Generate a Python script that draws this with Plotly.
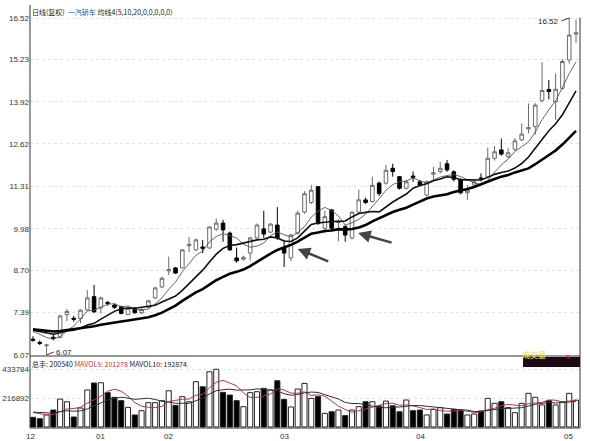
import pandas as pd
import plotly.graph_objects as go


# ==========================================
# DADOS  (一汽轿车 日线, 12月 -> 5月)
# ==========================================

open_ = [6.56, 6.46, 6.36, 6.62, 6.62, 7.32, 7.21, 7.20, 7.47, 7.88,
         7.53, 7.70, 7.62, 7.57, 7.33, 7.52, 7.38, 7.55, 7.84, 8.18,
         8.68, 8.77, 8.77, 9.46, 9.33, 9.42, 9.39, 9.97, 10.16, 9.85,
         9.08, 9.04, 9.23, 9.70, 9.98, 9.88, 10.10, 9.39, 9.08, 9.85,
         10.50, 10.80, 11.29, 10.00, 10.57, 10.18, 10.05, 9.70, 10.50, 10.88,
         10.83, 11.40, 11.40, 11.86, 11.60, 11.24, 11.62, 11.44, 11.03, 11.68,
         11.76, 12.00, 11.75, 11.50, 11.10, 11.34, 11.56, 11.60, 12.17, 12.43,
         12.22, 12.45, 12.74, 13.08, 13.15, 13.96, 14.30, 13.92, 14.34, 15.22,
         16.02]

high = [6.65, 6.52, 6.40, 6.70, 7.32, 7.50, 7.28, 7.48, 8.08, 8.24,
        7.88, 7.74, 7.66, 7.60, 7.55, 7.56, 7.55, 7.78, 8.18, 8.50,
        9.12, 8.80, 9.35, 9.73, 9.68, 9.64, 10.06, 10.30, 10.26, 9.90,
        9.40, 9.15, 9.74, 10.15, 10.54, 10.16, 10.66, 9.64, 9.83, 10.55,
        11.15, 11.35, 11.31, 10.55, 10.60, 10.28, 10.10, 10.52, 11.20, 10.95,
        11.60, 11.45, 11.96, 12.00, 11.62, 11.50, 11.76, 11.50, 11.48, 11.90,
        12.06, 12.12, 11.80, 11.55, 11.34, 11.50, 11.70, 12.50, 12.55, 12.78,
        12.48, 12.80, 13.25, 13.87, 13.88, 15.15, 14.60, 14.80, 15.25, 16.52,
        16.47]

low = [6.48, 6.38, 6.07, 6.52, 6.58, 7.12, 7.10, 7.05, 7.45, 7.37,
       7.35, 7.60, 7.50, 7.33, 7.30, 7.35, 7.34, 7.52, 7.80, 8.15,
       8.55, 8.58, 8.75, 9.26, 9.30, 9.23, 9.36, 9.92, 9.58, 9.30,
       8.93, 9.00, 9.00, 9.68, 9.70, 9.85, 9.64, 8.80, 8.98, 9.80,
       10.45, 10.75, 10.10, 9.85, 9.95, 9.60, 9.58, 9.65, 10.45, 10.75,
       10.80, 11.00, 11.35, 11.60, 11.20, 11.20, 11.44, 11.30, 10.98, 11.50,
       11.70, 11.75, 11.45, 11.05, 10.88, 11.30, 11.45, 11.55, 12.10, 12.25,
       12.18, 12.40, 12.70, 12.94, 12.90, 13.90, 14.00, 13.36, 14.30, 15.10,
       15.74]

close = [6.53, 6.43, 6.38, 6.58, 7.28, 7.42, 7.18, 7.46, 7.84, 7.41,
         7.84, 7.67, 7.55, 7.36, 7.52, 7.38, 7.48, 7.75, 8.15, 8.45,
         8.72, 8.61, 9.33, 9.50, 9.64, 9.38, 10.04, 10.16, 9.95, 9.33,
         8.99, 9.10, 9.70, 10.10, 9.82, 10.13, 9.70, 9.23, 9.79, 10.47,
         11.07, 11.18, 10.15, 10.36, 10.00, 10.20, 9.79, 10.50, 10.88, 10.80,
         11.33, 11.08, 11.80, 11.76, 11.24, 11.44, 11.58, 11.34, 11.44, 11.72,
         11.86, 11.81, 11.52, 11.10, 11.18, 11.44, 11.54, 12.17, 12.37, 12.30,
         12.34, 12.71, 12.92, 13.12, 13.82, 14.27, 14.24, 14.31, 15.17, 15.99,
         16.06]

volume = [72500, 62000, 90000, 127000, 209000, 189000, 75000, 142000, 277000, 329000,
          331000, 257000, 222000, 197000, 147000, 90000, 122000, 182000, 182000, 197000,
          271000, 162000, 227000, 189000, 339000, 301000, 413000, 432000, 259000, 239000,
          197000, 152000, 257000, 264000, 289000, 277000, 346000, 207000, 150000, 284000,
          326000, 214000, 227000, 102000, 114000, 127000, 85000, 127000, 152000, 189000,
          189000, 157000, 194000, 159000, 114000, 202000, 122000, 127000, 90000, 132000,
          145000, 97000, 132000, 127000, 90000, 97000, 120000, 214000, 177000, 189000,
          145000, 107000, 177000, 252000, 222000, 165000, 197000, 165000, 189000, 252000,
          200540]

# fechamentos / volumes antes da janela (para as médias começarem na 1a vela)
prior_close = [6.95, 6.92, 6.98, 6.90, 6.88, 6.85, 6.90, 6.93, 6.87, 6.84,
               6.88, 6.91, 6.86, 6.83, 6.89, 6.92, 6.86, 6.84, 6.88]
prior_volume = [105000, 130000, 118000, 95000, 122000, 110000, 125000, 118000, 116000]

price_ticks = [6.07, 7.39, 8.70, 9.98, 11.31, 12.62, 13.92, 15.23, 16.52]
vol_ticks = [216892, 433784]

month_labels = ["12", "01", "02", "03", "04", "05"]
month_pos = [-1.3, 9, 19, 37, 58, 79.8]

X_RANGE = [-0.44, 80.59]


# ==========================================
# MÉDIAS
# ==========================================

df = pd.DataFrame(dict(open=open_, high=high, low=low, close=close, volume=volume))
df["i"] = range(len(df))
df["up"] = df["close"] >= df["open"]

c_all = pd.Series(prior_close + close)
for w in (5, 10, 20):
    df[f"ma{w}"] = c_all.rolling(w, min_periods=1).mean().iloc[len(prior_close):].values

v_all = pd.Series(prior_volume + volume)
for w in (5, 10):
    df[f"mavol{w}"] = v_all.rolling(w, min_periods=1).mean().iloc[len(prior_volume):].values


# ==========================================
# GRÁFICO
# ==========================================

FONT = "Liberation Sans, Noto Sans CJK SC, sans-serif"
CJK = "Noto Sans CJK SC, sans-serif"

fig = go.Figure()

fig.add_trace(go.Candlestick(
    x=df["i"], open=df["open"], high=df["high"], low=df["low"], close=df["close"],
    increasing=dict(line=dict(color="#6a6a6a", width=1), fillcolor="white"),
    decreasing=dict(line=dict(color="black", width=1), fillcolor="black"),
    whiskerwidth=0,
    yaxis="y",
    hoverinfo="skip"
))

for col, width, color in [("ma5", 0.9, "#555555"), ("ma10", 1.6, "#111111"), ("ma20", 2.6, "#000000")]:
    fig.add_trace(go.Scatter(
        x=df["i"], y=df[col], mode="lines",
        line=dict(color=color, width=width),
        yaxis="y", hoverinfo="skip"
    ))

fig.add_trace(go.Bar(
    x=df["i"], y=df["volume"],
    marker=dict(
        color=["white" if u else "black" for u in df["up"]],
        line=dict(color="#222222", width=1)
    ),
    yaxis="y2", hoverinfo="skip"
))

fig.add_trace(go.Scatter(
    x=df["i"], y=df["mavol5"], mode="lines",
    line=dict(color="#b03a3a", width=1), yaxis="y2", hoverinfo="skip"
))
fig.add_trace(go.Scatter(
    x=df["i"], y=df["mavol10"], mode="lines",
    line=dict(color="#303030", width=1), yaxis="y2", hoverinfo="skip"
))

fig.update_layout(

    width=590,
    height=441,
    margin=dict(l=30, r=10, t=5, b=13),

    plot_bgcolor="white",
    paper_bgcolor="white",
    showlegend=False,
    bargap=0.25,
    boxgap=0.25,
    font=dict(family=FONT, size=8, color="#333333"),

    xaxis=dict(
        range=X_RANGE,
        showgrid=False, zeroline=False, showticklabels=False,
        rangeslider=dict(visible=False),
        automargin=False
    ),

    yaxis=dict(
        domain=[0.1702, 1],
        range=[6.039, 16.923],
        tickvals=price_ticks,
        ticktext=[f"{v:.2f}" for v in price_ticks],
        showgrid=True, gridcolor="#e2e2e2", griddash="dot", gridwidth=1,
        zeroline=False, ticks="", automargin=False,
        tickfont=dict(size=8, color="#333333")
    ),

    yaxis2=dict(
        domain=[0, 0.1678],
        range=[-7479, 523532],
        tickvals=vol_ticks,
        ticktext=[str(v) for v in vol_ticks],
        showgrid=True, gridcolor="#e2e2e2", griddash="dot", gridwidth=1,
        zeroline=False, ticks="", automargin=False,
        tickfont=dict(size=8, color="#333333")
    )
)

# moldura
line = dict(color="#333333", width=1)
for x0, y0, x1, y1 in [(0, 0, 0, 1), (1, 0, 1, 0.97), (0, 0.1702, 1, 0.1702), (0, 0, 1, 0)]:
    fig.add_shape(type="line", xref="paper", yref="paper",
                  x0=x0, y0=y0, x1=x1, y1=y1, line=line)

# caixa 成交量
fig.add_shape(type="rect", xref="paper", yref="paper",
              x0=0.8964, x1=1.0, y0=0.1442, y1=0.1678,
              fillcolor="#1c0a12", line=dict(width=0))
fig.add_annotation(xref="paper", yref="paper", x=0.9418, y=0.156,
                   text="成交量", showarrow=False,
                   font=dict(family=CJK, size=8, color="#e6e04a"))
fig.add_annotation(xref="paper", yref="paper", x=0.9873, y=0.156,
                   text="▼", showarrow=False,
                   font=dict(size=6, color="#e0205a"))

# cabeçalhos
fig.add_annotation(
    xref="paper", yref="paper", x=0.0, y=0.9835,
    xanchor="left", yanchor="middle", showarrow=False,
    text="日线(复权)  <span style='color:#1f5c9e'>一汽轿车</span> 均线4(5,10,20,0,0,0,0,0)",
    font=dict(family=CJK, size=7, color="#222222")
)
fig.add_annotation(
    xref="paper", yref="paper", x=0.0, y=0.1513,
    xanchor="left", yanchor="middle", showarrow=False,
    text="总手: 200540 <span style='color:#b03a3a'>MAVOL5: 201278</span> MAVOL10: 192874",
    font=dict(family=CJK, size=7, color="#222222")
)

# máx / mín
fig.add_annotation(x=79, y=16.52, text="16.52", showarrow=True, arrowhead=0,
                   arrowwidth=1, arrowcolor="#333333", ax=-8, ay=3,
                   xanchor="right", font=dict(size=8, color="#222222"))
fig.add_annotation(x=2, y=6.07, text="6.07", showarrow=True, arrowhead=0,
                   arrowwidth=1, arrowcolor="#333333", ax=7, ay=-3,
                   xanchor="left", font=dict(size=8, color="#222222"))

# setas
for hx, hy, ax, ay in [(39.0, 9.36, 32, 13), (47.9, 9.85, 35, 10)]:
    fig.add_annotation(x=hx, y=hy, text="", showarrow=True, arrowhead=2,
                       arrowsize=1, arrowwidth=2.5, arrowcolor="#444444",
                       ax=ax, ay=ay)

# meses (em coordenadas do papel, o "12" fica fora da faixa do eixo)
span = X_RANGE[1] - X_RANGE[0]
for pos, lab in zip(month_pos, month_labels):
    fig.add_annotation(x=(pos - X_RANGE[0]) / span, xref="paper", yref="paper",
                       y=-0.019, yanchor="middle",
                       text=lab, showarrow=False,
                       font=dict(size=8, color="#333333"))

# a página tem margem de 8px no body; zera para o gráfico ocupar a janela
fig.write_html("out.html", config={"displayModeBar": False},
               post_script="document.body.style.margin='0px';")
